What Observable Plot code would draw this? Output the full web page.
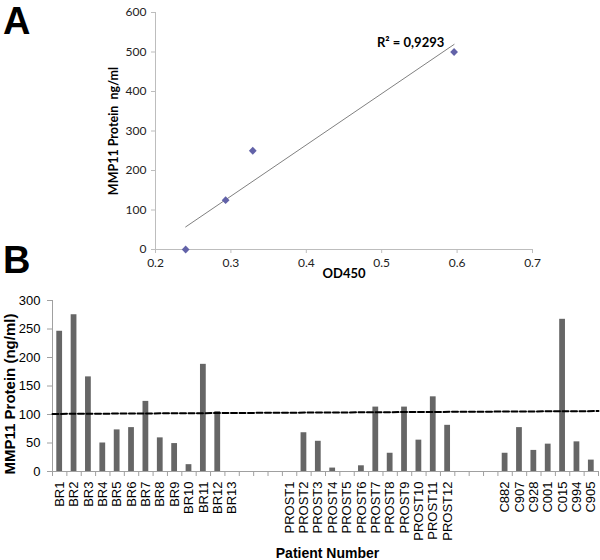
<!DOCTYPE html>
<html><head><meta charset="utf-8">
<script src="https://cdn.jsdelivr.net/npm/d3@7"></script>
<script src="https://cdn.jsdelivr.net/npm/@observablehq/plot@0.6"></script>
<style>
body{margin:0;background:#fff;}
#wrap{position:relative;width:600px;height:560px;overflow:hidden;}
.panel{position:absolute;left:0;}
.letter{position:absolute;font:bold 38px "Liberation Sans",Arial,sans-serif;line-height:1.117;color:#000;}
</style></head><body>
<div id="wrap">
<div id="a" class="panel" style="top:0"></div>
<div id="b" class="panel" style="top:280px"></div>
<div class="letter" style="left:3px;top:0px">A</div>
<div class="letter" style="left:3px;top:239px">B</div>
</div>
<script>
// ---- Panel A: standard curve ----
const od450 = [0.24, 0.293, 0.329, 0.596];
const standardNgMl = [0, 125, 250, 500];
const rSquaredLabel = "R² = 0,9293";
const xTicksA = [0.2, 0.3, 0.4, 0.5, 0.6, 0.7];
const yTicksA = [0, 100, 200, 300, 400, 500, 600];

// ---- Panel B: patient samples ----
const brNames = ["BR1","BR2","BR3","BR4","BR5","BR6","BR7","BR8","BR9","BR10","BR11","BR12","BR13"];
const brValues = [246, 275, 166, 50, 73, 77, 123, 59, 49, 12, 188, 105, 0];
const prostNames = ["PROST1","PROST2","PROST3","PROST4","PROST5","PROST6","PROST7","PROST8","PROST9","PROST10","PROST11","PROST12"];
const prostValues = [0, 68, 53, 6, 0, 10, 113, 32, 113, 55, 131, 81];
const colonNames = ["C882","C907","C928","C001","C015","C994","C905"];
const colonValues = [32, 77, 37, 48, 267, 52, 20];
const gapSlots = 3;
const yTicksB = [0, 50, 100, 150, 200, 250, 300];
const cutoffEnds = [101, 106];

const points = od450.map((x, i) => ({od: x, ng: standardNgMl[i]}));

const plotA = Plot.plot({
  width: 600, height: 280,
  marginLeft: 155, marginRight: 68, marginTop: 12, marginBottom: 31,
  x: {domain: [0.2, 0.7]},
  y: {domain: [0, 600]},
  style: {fontFamily: "Lato, sans-serif", fontSize: "12px", color: "#000", background: "transparent"},
  marks: [
    Plot.ruleX([0.2], {stroke: "#bdbdbd"}),
    Plot.ruleY([0], {stroke: "#bdbdbd"}),
    Plot.axisX({ticks: xTicksA, tickFormat: d3.format(".1f"), tickSize: 4, tickPadding: 5, stroke: "#bdbdbd", fill: "#222", label: null, fontSize: 12}),
    Plot.axisY({ticks: yTicksA, tickSize: 4, tickPadding: 5, stroke: "#bdbdbd", fill: "#222", label: null, fontSize: 12}),
    Plot.linearRegressionY(points, {x: "od", y: "ng", stroke: "#808080", strokeWidth: 1, ci: 0}),
    Plot.dot(points, {x: "od", y: "ng", symbol: "diamond2", r: 3.5, fill: "#6262a8", stroke: "none"}),
    Plot.text([rSquaredLabel], {x: () => 0.583, y: () => 522, text: d => d, textAnchor: "end", fontWeight: "bold", fontSize: 13}),
    Plot.text(["MMP11 Protein\u00a0 ng/ml"], {text: d => d, frameAnchor: "left", textAnchor: "middle", lineAnchor: "middle", dx: -42, rotate: -90, fontWeight: "bold", fontSize: 12.5}),
    Plot.text(["OD450"], {text: d => d, frameAnchor: "bottom", textAnchor: "middle", dy: 28, fontWeight: "bold", fontSize: 13})
  ]
});
document.getElementById("a").appendChild(plotA);

const table = [];
let slot = 0;
[[brNames, brValues], [prostNames, prostValues], [colonNames, colonValues]].forEach(([names, vals], g) => {
  if (g > 0) slot += gapSlots;
  names.forEach((n, i) => { table.push({name: n, value: vals[i], slot}); slot++; });
});
const nSlots = slot;
const nameBySlot = new Map(table.map(d => [d.slot + 0.5, d.name]));
const cutoff = [{s: 0, v: cutoffEnds[0]}, {s: nSlots, v: cutoffEnds[1]}];

const plotB = Plot.plot({
  width: 600, height: 280,
  marginLeft: 52, marginRight: 2, marginTop: 20, marginBottom: 89,
  x: {domain: [0, nSlots]},
  y: {domain: [0, 300]},
  style: {fontFamily: "'Liberation Sans', Arial, sans-serif", fontSize: "13px", color: "#000", background: "transparent", overflow: "visible"},
  marks: [
    Plot.rectY(table, {x1: "slot", x2: d => d.slot + 1, y: "value", fill: "#666666", insetLeft: 4.3, insetRight: 4.3}),
    Plot.ruleX([0], {stroke: "#a0a0a0"}),
    Plot.ruleY([0], {stroke: "#a0a0a0"}),
    Plot.axisY({ticks: yTicksB, tickSize: 5, tickPadding: 7, stroke: "#a0a0a0", fill: "#000", label: null, fontSize: 13}),
    Plot.axisX({ticks: d3.range(nSlots + 1), tickSize: 5, tickFormat: () => "", stroke: "#a0a0a0", label: null}),
    Plot.axisX({ticks: table.map(d => d.slot + 0.5), tickFormat: v => nameBySlot.get(v), tickSize: 0, tickPadding: 10, tickRotate: -90, fill: "#000", label: null, fontSize: 13}),
    Plot.line(cutoff, {x: "s", y: "v", stroke: "#000", strokeWidth: 2, strokeDasharray: "6,2.5"}),
    Plot.text(["MMP11 Protein (ng/ml)"], {text: d => d, frameAnchor: "left", textAnchor: "middle", lineAnchor: "middle", dx: -42, dy: 8, rotate: -90, fontWeight: "bold", fontSize: 15}),
    Plot.text(["Patient Number"], {text: d => d, frameAnchor: "bottom", textAnchor: "middle", dy: 86, dx: 2, fontWeight: "bold", fontSize: 14})
  ]
});
document.getElementById("b").appendChild(plotB);
</script>
</body></html>
